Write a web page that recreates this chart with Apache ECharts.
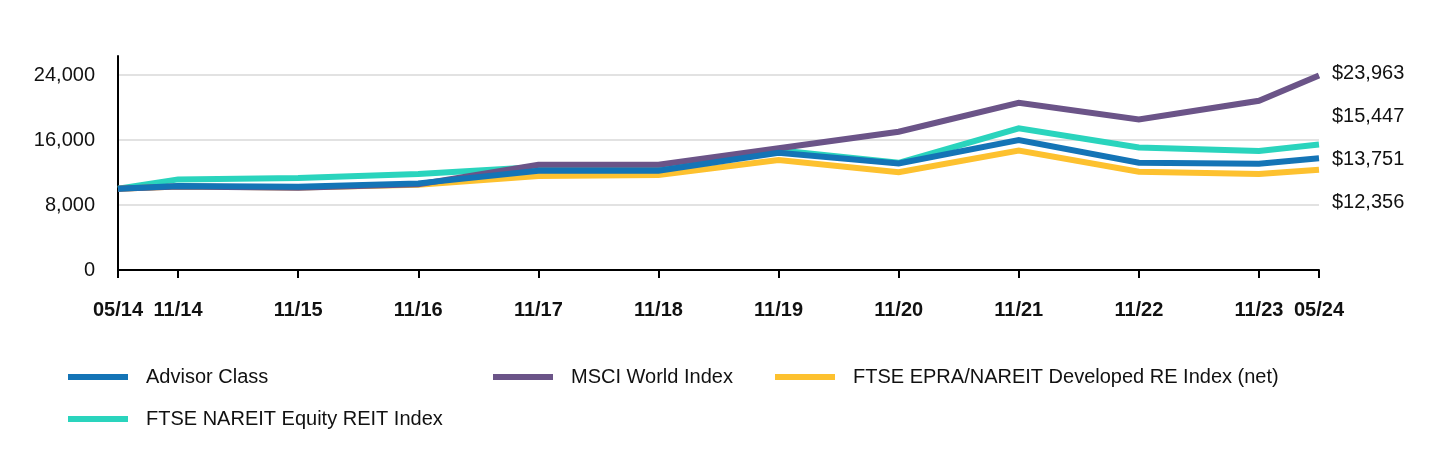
<!DOCTYPE html>
<html>
<head>
<meta charset="utf-8">
<script src="https://cdn.jsdelivr.net/npm/echarts@6/dist/echarts.min.js"></script>
<style>
html,body{margin:0;padding:0;background:#fff;}
#chart{width:1440px;height:468px;}
</style>
</head>
<body>
<div id="chart"></div>
<script>
// Half-year index from 05/14 (0) to 05/24 (20)
const halfYears = [0, 1, 3, 5, 7, 9, 11, 13, 15, 17, 19, 20];
const tickLabels = ['05/14', '11/14', '11/15', '11/16', '11/17', '11/18', '11/19', '11/20', '11/21', '11/22', '11/23', '05/24'];

const advisorClass = [10000, 10340, 10250, 10670, 12220, 12220, 14440, 13130, 16000, 13210, 13090, 13751];
const msciWorld    = [10000, 10300, 10130, 10550, 12960, 12960, 15000, 17030, 20600, 18540, 20840, 23963];
const ftseEpra     = [10000, 10300, 10150, 10500, 11570, 11690, 13540, 12050, 14700, 12100, 11820, 12356];
const ftseNareit   = [10000, 11160, 11320, 11820, 12700, 12600, 14750, 13200, 17440, 15100, 14650, 15447];

const yTicks = [0, 8000, 16000, 24000];

const names = {
  adv: 'Advisor Class',
  msci: 'MSCI World Index',
  epra: 'FTSE EPRA/NAREIT Developed RE Index (net)',
  nareit: 'FTSE NAREIT Equity REIT Index'
};
const colors = { adv: '#1474b6', msci: '#6b5488', epra: '#fdc12f', nareit: '#2ad4bd' };

const FONT = '"Liberation Sans", Arial, sans-serif';

function pairs(vals) { return vals.map((v, i) => [halfYears[i], v]); }
function money(v) { return '$' + Math.round(v).toLocaleString('en-US'); }

function lineSeries(key, vals, labelDy) {
  return {
    name: names[key],
    type: 'line',
    data: pairs(vals),
    showSymbol: false,
    symbol: 'none',
    lineStyle: { width: 6, color: colors[key], cap: 'butt', join: 'miter' },
    itemStyle: { color: colors[key] },
    emphasis: { disabled: true },
    endLabel: {
      show: true,
      distance: 13,
      offset: [0, labelDy],
      formatter: p => money(p.value[1]),
      color: '#111',
      fontSize: 20,
      fontFamily: FONT
    }
  };
}

function legendAt(key, left, top) {
  return {
    data: [names[key]],
    left: left, top: top,
    padding: 0,
    icon: 'rect',
    itemWidth: 60, itemHeight: 6,
    selectedMode: false,
    textStyle: { color: '#111', fontSize: 20, fontFamily: FONT, padding: [0, 0, 0, 13] }
  };
}

const chart = echarts.init(document.getElementById('chart'), null, { renderer: 'canvas' });
chart.setOption({
  animation: false,
  backgroundColor: '#fff',
  grid: { left: 118, right: 121, top: 56, bottom: 198, containLabel: false },
  xAxis: {
    type: 'value',
    min: 0, max: 20,
    axisLine: { show: true, lineStyle: { color: '#000', width: 2 } },
    axisTick: { show: true, customValues: halfYears, length: 8, lineStyle: { color: '#000', width: 2 } },
    axisLabel: {
      customValues: halfYears,
      hideOverlap: false,
      formatter: v => tickLabels[halfYears.indexOf(v)] || '',
      margin: 30,
      color: '#111', fontSize: 20, fontWeight: 'bold', fontFamily: FONT
    },
    splitLine: { show: false }
  },
  yAxis: {
    type: 'value',
    min: 0, max: 26359, interval: 8000,
    axisLine: { show: true, lineStyle: { color: '#000', width: 2 } },
    axisTick: { show: false },
    axisLabel: {
      showMaxLabel: false,
      formatter: v => (yTicks.indexOf(v) >= 0 ? v.toLocaleString('en-US') : ''),
      margin: 23,
      color: '#111', fontSize: 20, fontFamily: FONT
    },
    splitLine: { show: true, lineStyle: { color: ['transparent', '#e2e2e2', '#e2e2e2', '#e2e2e2', 'transparent'], width: 2 } }
  },
  legend: [
    legendAt('adv', 68, 367),
    legendAt('msci', 493, 367),
    legendAt('epra', 775, 367),
    legendAt('nareit', 68, 409)
  ],
  series: [
    lineSeries('nareit', ftseNareit, -28),
    lineSeries('epra', ftseEpra, 33),
    lineSeries('msci', msciWorld, -2),
    lineSeries('adv', advisorClass, 1)
  ]
});
</script>
</body>
</html>
